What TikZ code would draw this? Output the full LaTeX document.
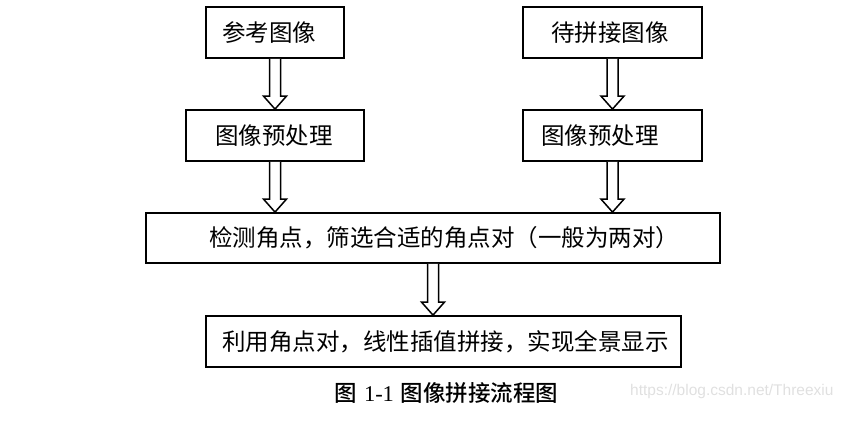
\documentclass[tikz,border=0pt]{standalone}
\usepackage{fontspec}
\setmainfont{Liberation Serif}
\newfontfamily\cjk{Noto Sans CJK SC}
\newfontfamily\cjkmid{Noto Sans CJK SC Medium}
\newfontfamily\wmfont{Liberation Sans}
\usetikzlibrary{calc, positioning}

\tikzset{
  box/.style={draw, line width=1.8pt, minimum height=51pt, inner sep=0pt},
  boxtext/.style={anchor=west, inner sep=0pt, font=\cjk\fontsize{23.5}{23.5}\selectfont},
  hollow/.style={draw, line width=1.5pt, fill=white, line join=miter}
}
\newcommand{\flowarrow}[2]{%
  \path[hollow] let \p1=(#1.south), \p2=(#2.north) in
  (\x1-5.5pt,\y1) -- (\x1-5.5pt,\y2+13pt) -- (\x1-11.5pt,\y2+13pt) -- (\x1,\y2)
  -- (\x1+11.5pt,\y2+13pt) -- (\x1+5.5pt,\y2+13pt) -- (\x1+5.5pt,\y1);}

\begin{document}
\begin{tikzpicture}[x=1pt,y=-1pt]
  \useasboundingbox (0,0) rectangle (852,422);
  \node[box, minimum width=138pt](ref)at(275,32.5){};
  \node[box, minimum width=179pt](tgt)at(612.5,32.5){};
  \node[box, minimum width=178pt](pre1)at(275,135.5){};
  \node[box, minimum width=179pt](pre2)at(612.5,135.5){};
  \node[box, minimum width=574pt, minimum height=50pt](detect)at(433,238){};
  \node[box, minimum width=475pt](merge)at(443.5,341.5){};
  \node[boxtext](reft)at([xshift=17pt]ref.west){参考图像};
  \node[boxtext](tgtt)at([xshift=29pt]tgt.west){待拼接图像};
  \node[boxtext](pre1t)at([xshift=30pt]pre1.west){图像预处理};
  \node[boxtext](pre2t)at([xshift=19pt]pre2.west){图像预处理};
  \node[boxtext](detectt)at([xshift=64pt]detect.west){检测角点，筛选合适的角点对（一般为两对）};
  \node[boxtext](merget)at([xshift=17pt]merge.west){利用角点对，线性插值拼接，实现全景显示};
  \flowarrow{ref}{pre1}
  \flowarrow{tgt}{pre2}
  \flowarrow{pre1}{detect}
  \flowarrow{pre2}{detect}
  \flowarrow{detect}{merge}
  \node[font=\fontsize{22.5}{22.5}\selectfont](caption)at(446.5,393)
  {{\cjkmid 图}\hspace{7pt}1-1\hspace{7pt}{\cjkmid 图像拼接流程图}};
  \node[anchor=west, inner sep=0pt, text=black!12, font=\wmfont\fontsize{15.5}{15.5}\selectfont]
  (mark)at(630,391){https://blog.csdn.net/Threexiu};
\end{tikzpicture}
\end{document}
